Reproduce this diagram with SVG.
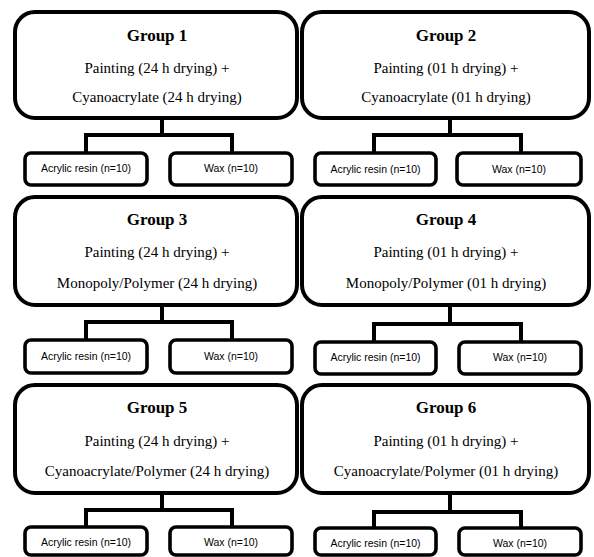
<svg xmlns="http://www.w3.org/2000/svg" width="594" height="557" viewBox="0 0 594 557">
<style>
.box{fill:#fff;stroke:#000;stroke-width:4}
.child{fill:#fff;stroke:#000;stroke-width:3.6}
.conn{fill:none;stroke:#000;stroke-width:4;stroke-linejoin:miter;stroke-linecap:butt}
.title{font-family:"Liberation Serif","Times New Roman",serif;font-weight:bold;font-size:17px;text-anchor:middle;fill:#000}
.desc{font-family:"Liberation Serif","Times New Roman",serif;font-size:15px;text-anchor:middle;fill:#000}
.ct{font-family:"Liberation Sans",Arial,sans-serif;font-size:10.5px;text-anchor:middle;fill:#000}
</style>
<rect width="594" height="557" fill="#fff"/>
<g id="connectors">
<path class="conn" d="M162 118V135M86 154V135H232V154"/>
<path class="conn" d="M450 118V135M374 154V135H521V154"/>
<path class="conn" d="M162 305V322M86 341V322H232V341"/>
<path class="conn" d="M450 305V324M374 343V324H521V343"/>
<path class="conn" d="M162 493V510M86 527V510H232V527"/>
<path class="conn" d="M450 493V512M374 529V512H521V529"/>
</g>
<g id="group1">
<rect class="box" x="15" y="12" width="282" height="106" rx="20"/>
<text class="title" x="157" y="41">Group 1</text>
<text class="desc" x="157" y="73">Painting (24 h drying) +</text>
<text class="desc" x="157" y="102">Cyanoacrylate (24 h drying)</text>
</g>
<g id="group2">
<rect class="box" x="302" y="12" width="287" height="106" rx="20"/>
<text class="title" x="446" y="41">Group 2</text>
<text class="desc" x="446" y="73">Painting (01 h drying) +</text>
<text class="desc" x="446" y="102">Cyanoacrylate (01 h drying)</text>
</g>
<g id="group3">
<rect class="box" x="15" y="197" width="282" height="108" rx="20"/>
<text class="title" x="157" y="225">Group 3</text>
<text class="desc" x="157" y="257">Painting (24 h drying) +</text>
<text class="desc" x="157" y="288">Monopoly/Polymer (24 h drying)</text>
</g>
<g id="group4">
<rect class="box" x="302" y="197" width="287" height="108" rx="20"/>
<text class="title" x="446" y="225">Group 4</text>
<text class="desc" x="446" y="257">Painting (01 h drying) +</text>
<text class="desc" x="446" y="288">Monopoly/Polymer (01 h drying)</text>
</g>
<g id="group5">
<rect class="box" x="15" y="385" width="282" height="108" rx="20"/>
<text class="title" x="157" y="413">Group 5</text>
<text class="desc" x="157" y="446">Painting (24 h drying) +</text>
<text class="desc" x="157" y="476">Cyanoacrylate/Polymer (24 h drying)</text>
</g>
<g id="group6">
<rect class="box" x="302" y="385" width="287" height="108" rx="20"/>
<text class="title" x="446" y="413">Group 6</text>
<text class="desc" x="446" y="446">Painting (01 h drying) +</text>
<text class="desc" x="446" y="476">Cyanoacrylate/Polymer (01 h drying)</text>
</g>
<g id="g1-acrylic"><rect class="child" x="25" y="153" width="122" height="32" rx="6"/><text class="ct" x="86" y="172">Acrylic resin (n=10)</text></g>
<g id="g1-wax"><rect class="child" x="170" y="153" width="122" height="32" rx="6"/><text class="ct" x="231" y="172">Wax (n=10)</text></g>
<g id="g2-acrylic"><rect class="child" x="315" y="153" width="121" height="32" rx="6"/><text class="ct" x="375.5" y="173">Acrylic resin (n=10)</text></g>
<g id="g2-wax"><rect class="child" x="457" y="153" width="124" height="32" rx="6"/><text class="ct" x="519" y="173">Wax (n=10)</text></g>
<g id="g3-acrylic"><rect class="child" x="25" y="340" width="122" height="33" rx="6"/><text class="ct" x="86" y="360">Acrylic resin (n=10)</text></g>
<g id="g3-wax"><rect class="child" x="170" y="340" width="122" height="33" rx="6"/><text class="ct" x="231" y="360">Wax (n=10)</text></g>
<g id="g4-acrylic"><rect class="child" x="315" y="342" width="121" height="32" rx="6"/><text class="ct" x="375.5" y="361">Acrylic resin (n=10)</text></g>
<g id="g4-wax"><rect class="child" x="459" y="342" width="122" height="32" rx="6"/><text class="ct" x="520" y="361">Wax (n=10)</text></g>
<g id="g5-acrylic"><rect class="child" x="25" y="527" width="122" height="28" rx="6"/><text class="ct" x="86" y="546">Acrylic resin (n=10)</text></g>
<g id="g5-wax"><rect class="child" x="170" y="527" width="122" height="28" rx="6"/><text class="ct" x="231" y="546">Wax (n=10)</text></g>
<g id="g6-acrylic"><rect class="child" x="315" y="528" width="121" height="27" rx="6"/><text class="ct" x="375.5" y="547">Acrylic resin (n=10)</text></g>
<g id="g6-wax"><rect class="child" x="459" y="528" width="122" height="27" rx="6"/><text class="ct" x="520" y="547">Wax (n=10)</text></g>
</svg>
